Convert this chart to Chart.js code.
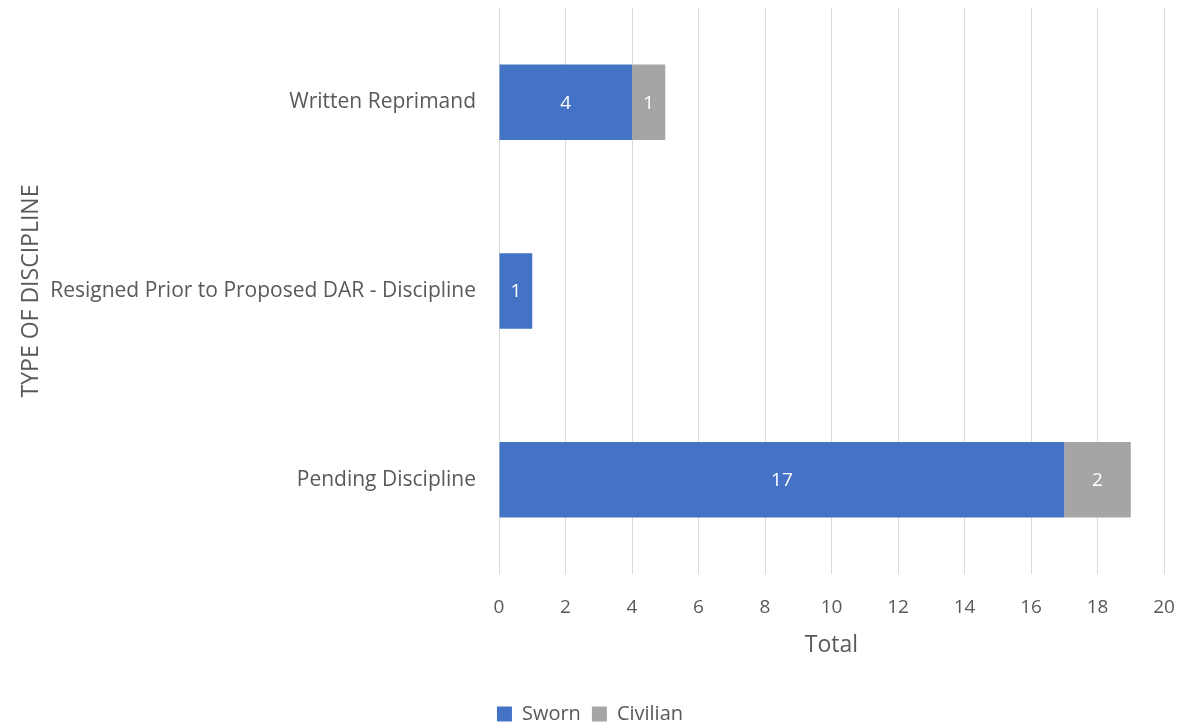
<!DOCTYPE html>
<html>
<head>
<meta charset="utf-8">
<script src="https://cdn.jsdelivr.net/npm/chart.js"></script>
<style>
  body { margin: 0; background: #fff; }
  #wrap { width: 1203px; height: 725px; }
</style>
</head>
<body>
<div id="wrap"><canvas id="disciplineChart" width="1203" height="725"></canvas></div>
<script>
// chart data
const categories = ['Written Reprimand', 'Resigned Prior to Proposed DAR - Discipline', 'Pending Discipline'];
const sworn = [4, 1, 17];
const civilian = [1, 0, 2];
const xTicks = [0, 2, 4, 6, 8, 10, 12, 14, 16, 18, 20];

const fontFamily = "'Open Sans', 'Noto Sans', sans-serif";
const textColor = '#595959';

// draws the value inside each bar segment
const valueLabels = {
    id: 'valueLabels',
    afterDatasetsDraw(chart) {
        const ctx = chart.ctx;
        ctx.save();
        ctx.fillStyle = '#ffffff';
        ctx.font = '19px ' + fontFamily;
        ctx.textAlign = 'center';
        ctx.textBaseline = 'middle';
        chart.data.datasets.forEach((ds, i) => {
            const meta = chart.getDatasetMeta(i);
            meta.data.forEach((bar, j) => {
                const v = ds.data[j];
                if (!v) return;
                const x = (bar.x + bar.base) / 2;
                ctx.fillText(String(v), x, bar.y + 1);
            });
        });
        ctx.restore();
    }
};

const ctx = document.getElementById('disciplineChart').getContext('2d');
new Chart(ctx, {
    type: 'bar',
    data: {
        labels: categories,
        datasets: [
            { label: 'Sworn', data: sworn, backgroundColor: '#4472c4', barPercentage: 0.8, categoryPercentage: 0.5 },
            { label: 'Civilian', data: civilian, backgroundColor: '#a5a5a5', barPercentage: 0.8, categoryPercentage: 0.5 }
        ]
    },
    options: {
        indexAxis: 'y',
        responsive: false,
        animation: false,
        layout: { padding: { top: 8, right: 39, left: 16, bottom: -9 } },
        plugins: {
            legend: {
                position: 'bottom',
                labels: {
                    font: { family: fontFamily, size: 20 },
                    color: textColor,
                    boxWidth: 15,
                    boxHeight: 15,
                    padding: 11
                }
            },
            tooltip: { enabled: false }
        },
        scales: {
            x: {
                stacked: true,
                min: 0,
                max: 20,
                afterBuildTicks(scale) {
                    scale.ticks = xTicks.map(v => ({ value: v }));
                },
                ticks: { font: { family: fontFamily, size: 19 }, color: textColor, padding: 22 },
                grid: { color: '#d9d9d9', lineWidth: 1, drawTicks: false },
                border: { display: false },
                title: { display: true, text: 'Total', font: { family: fontFamily, size: 23 }, color: textColor, padding: { top: 8, bottom: 34 } },
                afterFit(scale) { scale.height = 119; }
            },
            y: {
                stacked: true,
                ticks: { font: { family: fontFamily, size: 21 }, color: textColor, padding: 23 },
                grid: { display: false, drawTicks: false },
                border: { display: false },
                title: { display: true, text: 'TYPE OF DISCIPLINE', font: { family: fontFamily, size: 23 }, color: textColor, padding: 2 },
                afterFit(scale) {
                    scale.width = 499 - 16;
                    scale.paddingTop = 0;
                    scale.paddingBottom = 0;
                }
            }
        }
    },
    plugins: [valueLabels]
});
</script>
</body>
</html>
